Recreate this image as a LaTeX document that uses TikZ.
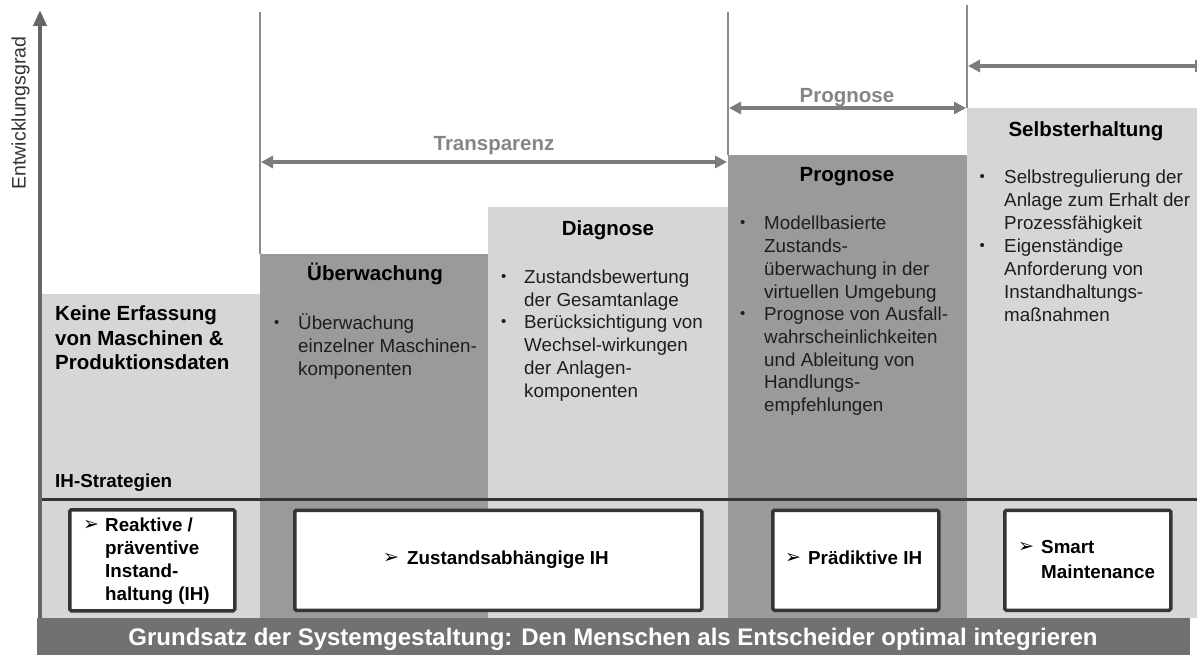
\documentclass[tikz,border=0pt]{standalone}
\usepackage{fontspec}
\setmainfont{Liberation Sans}
\newfontfamily\dingfont{DejaVu Sans}
\usetikzlibrary{arrows.meta}

\definecolor{colLight}{HTML}{D6D6D6}
\definecolor{colDark}{HTML}{9A9A9A}
\definecolor{bandGray}{HTML}{717171}
\definecolor{arrowGray}{HTML}{7C7C7C}
\definecolor{labelGray}{HTML}{858585}
\definecolor{ruleGray}{HTML}{8C8C8C}
\definecolor{axisGray}{HTML}{666666}
\definecolor{edgeDark}{HTML}{353535}
\definecolor{textDark}{HTML}{1E1E1E}

\newcommand\bodyfont{\fontsize{18.8}{22.7}\selectfont}
\newcommand\headfont{\bfseries\fontsize{20.5}{24.6}\selectfont}
\newcommand\boxfont{\bfseries\fontsize{18.8}{22.7}\selectfont}
\newcommand\pointer{{\dingfont\fontsize{19}{19}\selectfont ➢}}
\newcommand\dotmark{\strut\raisebox{2pt}{\fontsize{15}{15}\selectfont\textbullet}}

\tikzset{
  lines/.style={align=left, anchor=north west, inner sep=0pt, font=\bodyfont, text=textDark},
  heading/.style={anchor=base, inner sep=0pt, font=\headfont, text=black},
  spanlabel/.style={anchor=base, inner sep=0pt, font=\headfont, text=labelGray},
  span/.style={draw=arrowGray, line width=4pt,
    {Triangle[length=12pt,width=12pt]}-{Triangle[length=12pt,width=12pt]}},
  divider/.style={draw=ruleGray, line width=1.2pt},
  ihbox/.style={draw=edgeDark, line width=3.5pt, fill=white, rounded corners=1.5pt,
    inner sep=0pt, anchor=north west},
  boxtext/.style={inner sep=0pt, font=\boxfont, text=black},
  pointerbox/.style={inner sep=0pt, anchor=west, text=black},
}

\begin{document}
\begin{tikzpicture}[x=1pt, y=-1pt]
\clip (0,0) rectangle (1197,655);
\fill[white] (0,0) rectangle (1197,655);

% stepped columns
\fill[colLight] (40,294)  rectangle (260,618);
\fill[colDark]  (260,254) rectangle (488,618);
\fill[colLight] (488,207) rectangle (728,618);
\fill[colDark]  (728,155) rectangle (967,618);
\fill[colLight] (967,108) rectangle (1197,618);

% phase dividers
\coordinate (d1t) at (260,12);  \coordinate (d1b) at (260,254);
\coordinate (d2t) at (728,12);  \coordinate (d2b) at (728,155);
\coordinate (d3t) at (967,5);   \coordinate (d3b) at (967,108);
\draw[divider] (d1t) -- (d1b);
\draw[divider] (d2t) -- (d2b);
\draw[divider] (d3t) -- (d3b);

% separator above the maintenance strategies
\coordinate (sepL) at (40,499);
\coordinate (sepR) at (1197,499);
\draw[draw=edgeDark, line width=3pt] (sepL) -- (sepR);

% phase spans
\coordinate (trL) at (261,162); \coordinate (trR) at (727,162);
\coordinate (prL) at (729,108); \coordinate (prR) at (966,108);
\coordinate (seL) at (968,66);  \coordinate (seR) at (1207,66);
\draw[span] (trL) -- (trR);
\draw[span] (prL) -- (prR);
\draw[span] (seL) -- (seR);
\node[spanlabel] (trLabel) at (494,150.4) {Transparenz};
\node[spanlabel] (prLabel) at (847,102.4) {Prognose};

% column 1
\node[lines, font=\headfont, text=black] (c1head) at (55,303.2)
  {\strut Keine Erfassung\\von Maschinen \&\\Produktionsdaten};
\node[anchor=base west, inner sep=0pt, font=\boxfont, text=black] (ihLabel) at (55,487.8) {IH-Strategien};

% column 2
\node[heading] (c2head) at (375,280.4) {Überwachung};
\node[lines] (c2b1) at (274,313.9) {\dotmark};
\node[lines] (c2t1) at (298,313.9) {\strut Überwachung\\einzelner Maschinen-\\komponenten};

% column 3
\node[heading] (c3head) at (608,235.4) {Diagnose};
\node[lines] (c3b1) at (501,267.9) {\dotmark};
\node[lines] (c3t1) at (524,267.9) {\strut Zustandsbewertung\\der Gesamtanlage};
\node[lines] (c3b2) at (501,312.9) {\dotmark};
\node[lines] (c3t2) at (524,312.9) {\strut Berücksichtigung von\\Wechsel-wirkungen\\der Anlagen-\\komponenten};

% column 4
\node[heading] (c4head) at (847,181.4) {Prognose};
\node[lines] (c4b1) at (740,213.9) {\dotmark};
\node[lines] (c4t1) at (764,213.9) {\strut Modellbasierte\\Zustands-\\überwachung in der\\virtuellen Umgebung};
\node[lines] (c4b2) at (740,304.7) {\dotmark};
\node[lines] (c4t2) at (764,304.7) {\strut Prognose von Ausfall-\\wahrscheinlichkeiten\\und Ableitung von\\Handlungs-\\empfehlungen};

% column 5
\node[heading] (c5head) at (1086,136.8) {Selbsterhaltung};
\node[lines] (c5b1) at (979.5,167.9) {\dotmark};
\node[lines] (c5t1) at (1004,167.9) {\strut Selbstregulierung der\\Anlage zum Erhalt der\\Prozessfähigkeit};
\node[lines] (c5b2) at (979.5,236.9) {\dotmark};
\node[lines] (c5t2) at (1004,236.9) {\strut Eigenständige\\Anforderung von\\Instandhaltungs-\\maßnahmen};

% maintenance strategy boxes
\node[ihbox, minimum width=165pt, minimum height=101pt] (ih1) at (68,508) {};
\node[ihbox, minimum width=407pt, minimum height=100pt] (ih2) at (293,508.5) {};
\node[ihbox, minimum width=166pt, minimum height=100pt] (ih3) at (771,508.5) {};
\node[ihbox, minimum width=166pt, minimum height=100pt] (ih4) at (1003,508.5) {};

\node[pointerbox] (p1) at (83,525) {\pointer};
\node[lines, font=\boxfont, text=black] (t1) at (105,515.9)
  {\strut Reaktive /\\präventive\\Instand-\\haltung (IH)};
\node[pointerbox] (p2) at (383,558) {\pointer};
\node[boxtext, anchor=base west] (t2) at (407,564.8) {Zustandsabhängige IH};
\node[pointerbox] (p3) at (785,558) {\pointer};
\node[boxtext, anchor=base west] (t3) at (808,564.8) {Prädiktive IH};
\node[pointerbox] (p4) at (1018,547) {\pointer};
\node[lines, font=\bfseries\fontsize{18.8}{24.5}\selectfont, text=black] (t4) at (1041,536.6)
  {\strut Smart\\Maintenance};

% development axis
\coordinate (axisFoot) at (40,630);
\coordinate (axisTip) at (40,10);
\draw[draw=axisGray, line width=4.5pt, -{Triangle[length=16pt,width=13pt]}] (axisFoot) -- (axisTip);
\node[anchor=base, inner sep=0pt, rotate=90, font=\fontsize{19.5}{23}\selectfont, text=black!80] (axisLabel)
  at (25.5,113) {Entwicklungsgrad};

% design principle band
\fill[bandGray] (37,618) rectangle (1190,655);
\node[anchor=base, inner sep=0pt, text=white, font=\bfseries\fontsize{24}{28}\selectfont] (principle)
  at (613,645.6) {Grundsatz der Systemgestaltung: Den Menschen als Entscheider optimal integrieren};
\end{tikzpicture}
\end{document}
